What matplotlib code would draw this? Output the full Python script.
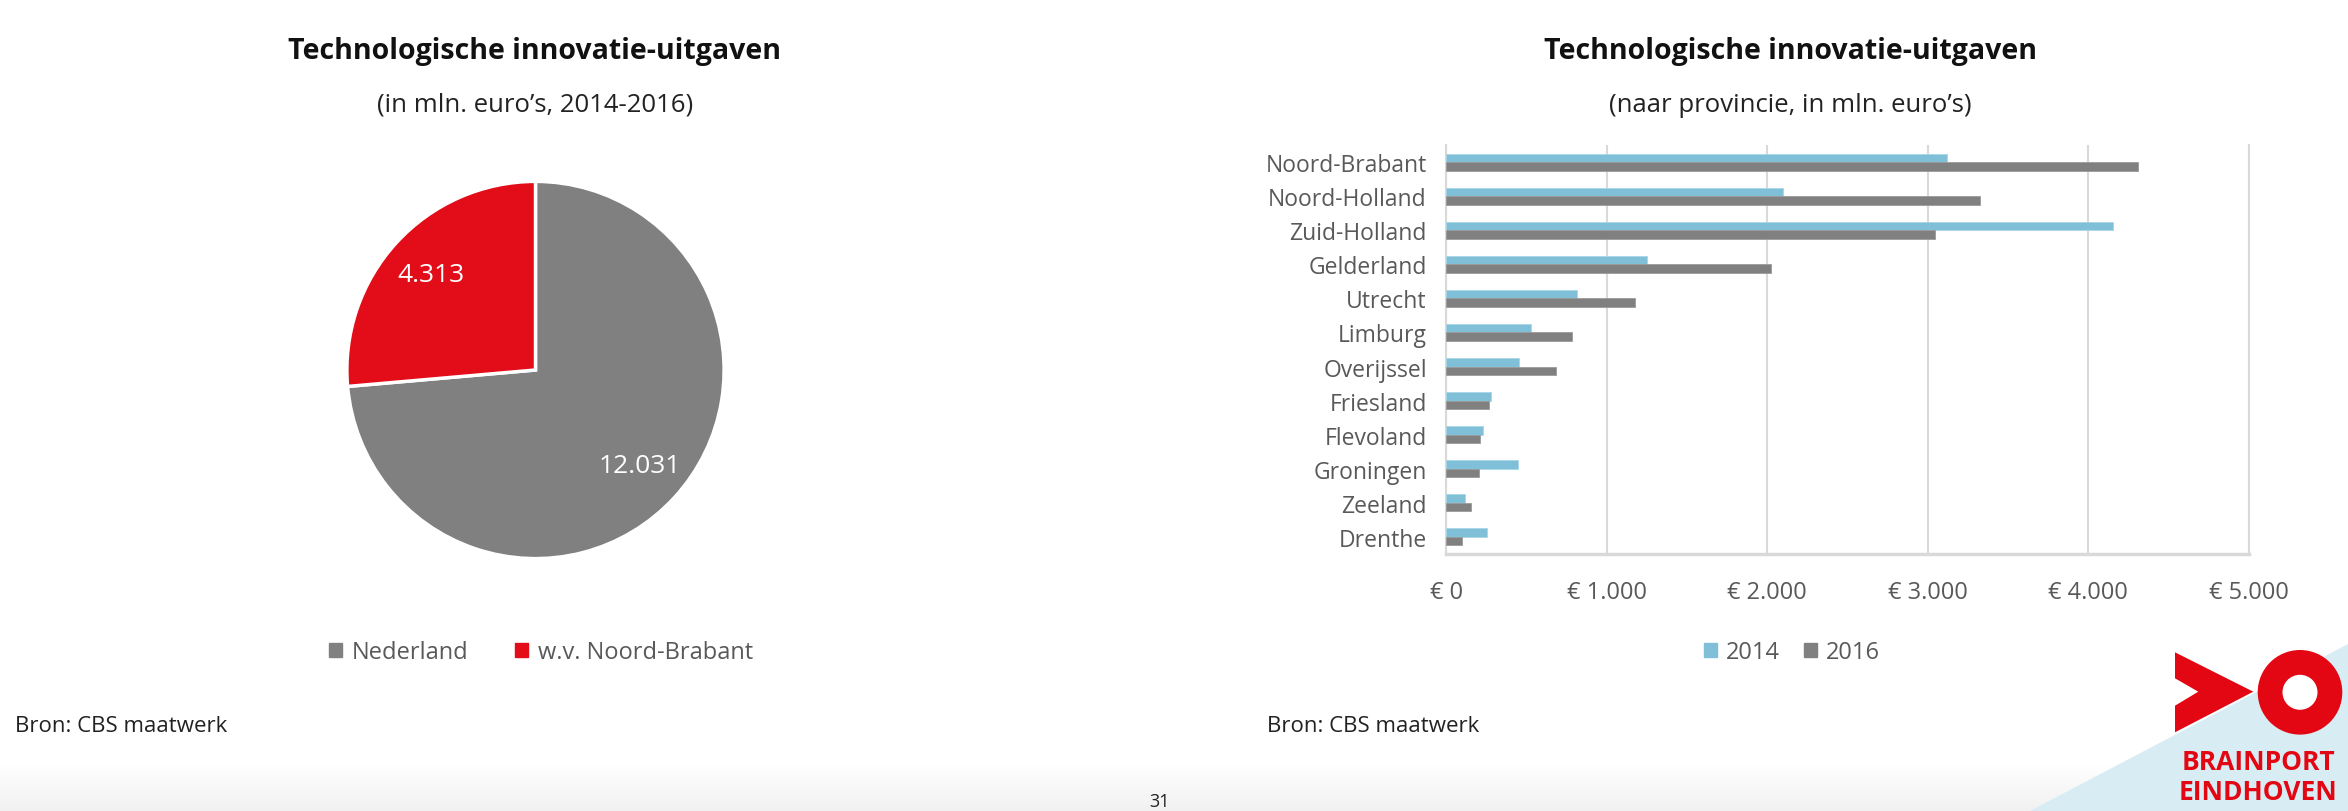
import matplotlib
matplotlib.use('Agg')
import matplotlib.pyplot as plt
import numpy as np
from matplotlib.patches import Patch, Polygon, Circle
from matplotlib.colors import LinearSegmentedColormap

# ---------------- data ----------------
pie_labels = ['Nederland', 'w.v. Noord-Brabant']
pie_values = [12031, 4313]
pie_value_text = ['12.031', '4.313']

provinces = ['Noord-Brabant', 'Noord-Holland', 'Zuid-Holland', 'Gelderland', 'Utrecht',
             'Limburg', 'Overijssel', 'Friesland', 'Flevoland', 'Groningen', 'Zeeland', 'Drenthe']
values_2014 = [3119, 2096, 4154, 1253, 818, 530, 455, 280, 230, 447, 117, 255]
values_2016 = [4313, 3324, 3044, 2025, 1177, 785, 685, 267, 213, 205, 154, 96]
series_labels = ['2014', '2016']
x_ticks = [0, 1000, 2000, 3000, 4000, 5000]
x_tick_labels = ['€ 0', '€ 1.000', '€ 2.000', '€ 3.000', '€ 4.000', '€ 5.000']

# ---------------- style ----------------
W, H, DPI = 2348, 812, 100
FONT = 'Open Sans'
plt.rcParams['font.family'] = [FONT, 'DejaVu Sans']
GREY = '#808080'
RED = '#e30d19'
BLUE = '#7fbfd7'
TXT = '#595959'
GRID = '#d9d9d9'

def fx(x):
    return x / W

def fy(y):
    return 1 - y / H

fig = plt.figure(figsize=(W / DPI, H / DPI), dpi=DPI)
fig.patch.set_facecolor('white')

# overlay axes in pixel coordinates for page decorations
ov = fig.add_axes([0, 0, 1, 1], zorder=0)
ov.set_xlim(0, W)
ov.set_ylim(H, 0)
ov.axis('off')
grad = np.linspace(0, 1, 50).reshape(-1, 1)
cmap = LinearSegmentedColormap.from_list('g', ['#ffffff', '#f1f1f1'])
ov.imshow(grad, cmap=cmap, extent=(0, W, H, 765), aspect='auto', zorder=0)
ov.add_patch(Polygon([(2030, 812), (2348, 812), (2348, 645)], closed=True,
                     facecolor='#d8ecf3', edgecolor='none', zorder=1))
LOGO = '#e30613'
ov.add_patch(Polygon([(2175, 653.3), (2253.3, 692.7), (2175, 733.3), (2175, 706.7),
                      (2198.3, 692.7), (2175, 679.3)], closed=True,
                     facecolor=LOGO, edgecolor='none', zorder=2))
ov.add_patch(Circle((2300, 693.3), 42.3, facecolor=LOGO, edgecolor='none', zorder=3))
ov.add_patch(Circle((2300, 693.3), 17.5, facecolor='white', edgecolor='none', zorder=4))
ov.text(2258, 763, 'BRAINPORT', ha='center', va='center', fontsize=19,
        fontweight='bold', color=LOGO, zorder=5)
ov.text(2258, 792.5, 'EINDHOVEN', ha='center', va='center', fontsize=19,
        fontweight='bold', color=LOGO, zorder=5)
ov.text(1160, 793, '31', ha='center', va='top', fontsize=13, color='#222222', zorder=5)

# ---------------- titles / notes ----------------
for cx, sub in [(535, '(in mln. euro’s, 2014-2016)'), (1790, '(naar provincie, in mln. euro’s)')]:
    fig.text(fx(cx), fy(52), 'Technologische innovatie-uitgaven', ha='center', va='center',
             fontsize=20.5, fontweight='bold', color='#111111')
    fig.text(fx(cx), fy(105), sub, ha='center', va='center', fontsize=18.5, color='#222222')
fig.text(fx(15), fy(727), 'Bron: CBS maatwerk', ha='left', va='center', fontsize=16, color='#222222')
fig.text(fx(1267), fy(727), 'Bron: CBS maatwerk', ha='left', va='center', fontsize=16, color='#222222')

# ---------------- pie ----------------
pcx, pcy, R = 535.5, 371, 190.5
axp = fig.add_axes([fx(pcx - R), fy(pcy + R), 2 * R / W, 2 * R / H], zorder=2)
wedges, _ = axp.pie(pie_values, colors=[GREY, RED], startangle=90, counterclock=False,
                    radius=1, wedgeprops=dict(edgecolor='white', linewidth=2.5))
axp.set_xlim(-1.01, 1.01)
axp.set_ylim(-1.01, 1.01)
for w, t in zip(wedges, pie_value_text):
    ang = np.deg2rad((w.theta1 + w.theta2) / 2)
    axp.text(0.75 * np.cos(ang), 0.75 * np.sin(ang), t, ha='center', va='center',
             fontsize=19, color='white')
fig.legend(handles=[Patch(color=GREY), Patch(color=RED)], labels=pie_labels,
           loc='center', bbox_to_anchor=(fx(541), fy(653)), ncol=2, frameon=False,
           fontsize=17, handlelength=0.55, handleheight=0.55, handletextpad=0.4,
           columnspacing=2.0, labelcolor=TXT)

# ---------------- bars ----------------
x0, x1, y0, y1 = 1446.2, 2248.6, 146, 555
axb = fig.add_axes([fx(x0), fy(y1), (x1 - x0) / W, (y1 - y0) / H], zorder=2)
ypos = np.arange(len(provinces))
bh = 0.25
axb.barh(ypos - bh / 2, values_2014, height=bh, color=BLUE, edgecolor='#a9d6e6', linewidth=0.6,
         label=series_labels[0], zorder=3)
axb.barh(ypos + bh / 2, values_2016, height=bh, color=GREY, edgecolor='#9a9a9a', linewidth=0.6,
         label=series_labels[1], zorder=3)
axb.set_xlim(0, 5000)
axb.set_ylim(len(provinces) - 0.5, -0.5)
axb.set_xticks(x_ticks)
axb.set_xticklabels(x_tick_labels)
axb.set_yticks(ypos)
axb.set_yticklabels(provinces)
axb.tick_params(axis='y', length=0, labelsize=16.5, labelcolor=TXT, pad=14)
axb.tick_params(axis='x', length=0, labelsize=17, labelcolor=TXT, pad=19)
axb.grid(axis='x', color=GRID, linewidth=1.5, zorder=0)
axb.set_axisbelow(True)
axb.spines['top'].set_visible(False)
axb.spines['right'].set_color(GRID)
axb.spines['right'].set_linewidth(1.5)
axb.spines['left'].set_color(GRID)
axb.spines['left'].set_linewidth(1.5)
axb.spines['bottom'].set_color(GRID)
axb.spines['bottom'].set_linewidth(2.5)
axb.set_facecolor('none')
fig.legend(handles=[Patch(color=BLUE), Patch(color=GREY)], labels=series_labels,
           loc='center', bbox_to_anchor=(fx(1792), fy(653)), ncol=2, frameon=False,
           fontsize=17, handlelength=0.55, handleheight=0.55, handletextpad=0.4,
           columnspacing=1.0, labelcolor=TXT)

fig.savefig('out.png', dpi=DPI, facecolor='white')
